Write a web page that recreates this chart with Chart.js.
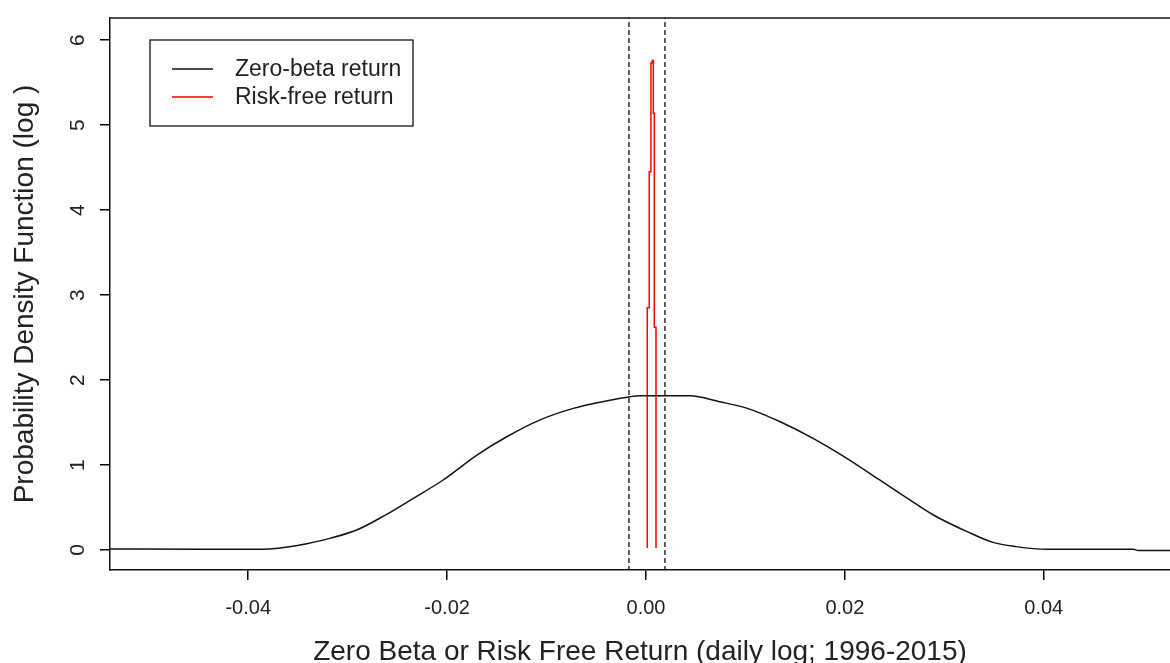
<!DOCTYPE html>
<html lang="en">

<head>
  <meta charset="UTF-8">
  <title>Zero Beta vs Risk Free Return</title>
  <script src="https://cdn.jsdelivr.net/npm/chart.js"></script>
  <style>
    body {
      margin: 0;
      background: #fff;
    }
  </style>
</head>

<body>
  <canvas id="graficoDensidad" width="1170" height="663"></canvas>

  <script>
    // Densidad del retorno zero-beta
    const zeroBetaX = [-0.0545, -0.0450, -0.0385, -0.0348, -0.0318, -0.0291, -0.0265, -0.0234, -0.0204,
      -0.0170, -0.0140, -0.0107, -0.0073, -0.0039, -0.0016, -0.0006, 0.0044, 0.0074, 0.0102, 0.0135,
      0.0168, 0.0202, 0.0235, 0.0263, 0.0289, 0.0323, 0.0349, 0.0372, 0.0403, 0.0490, 0.0495, 0.0545];
    const zeroBetaY = [0.012, 0.010, 0.010, 0.059, 0.137, 0.235, 0.392, 0.608, 0.824,
      1.118, 1.333, 1.529, 1.667, 1.756, 1.804, 1.815, 1.815, 1.745, 1.667, 1.509,
      1.314, 1.079, 0.824, 0.608, 0.412, 0.216, 0.090, 0.040, 0.008, 0.008, -0.005, -0.005];

    // Densidad del retorno libre de riesgo (escalonada)
    const riskFreeX = [0.00013, 0.00013, 0.00033, 0.00050, 0.00063, 0.00074, 0.00084, 0.00101];
    const riskFreeY = [0.024, 2.85, 4.45, 5.73, 5.76, 5.14, 2.62, 0.024];

    // Limites del intervalo (lineas punteadas)
    const limites = [-0.00171, 0.00191];

    const xTicks = [-0.04, -0.02, 0, 0.02, 0.04];
    const yTicks = [0, 1, 2, 3, 4, 5, 6];

    const fuente = "'Liberation Sans', Arial, sans-serif";
    const negro = '#000';

    const puntos = (xs, ys) => xs.map((x, i) => ({ x: x, y: ys[i] }));

    const datasets = [
      {
        label: 'Zero-beta return',
        data: puntos(zeroBetaX, zeroBetaY),
        borderColor: '#111',
        borderWidth: 1.5,
        pointRadius: 0,
        cubicInterpolationMode: 'monotone',
        enLeyenda: true
      },
      {
        label: 'Risk-free return',
        data: puntos(riskFreeX, riskFreeY),
        borderColor: '#ff0000',
        borderWidth: 1.5,
        pointRadius: 0,
        stepped: true,
        enLeyenda: true
      }
    ];

    limites.forEach(v => {
      datasets.push({
        label: 'limite',
        data: [{ x: v, y: -1 }, { x: v, y: 7 }],
        borderColor: '#111',
        borderWidth: 1.3,
        borderDash: [5, 3],
        pointRadius: 0
      });
    });

    // Borde superior del grafico y leyenda con recuadro
    const marcoYLeyenda = {
      id: 'marcoYLeyenda',
      afterDraw(chart) {
        const ctx = chart.ctx;
        const area = chart.chartArea;
        ctx.save();
        ctx.strokeStyle = '#111';
        ctx.lineWidth = 1.5;
        ctx.beginPath();
        ctx.moveTo(area.left, area.top);
        ctx.lineTo(area.right, area.top);
        ctx.stroke();

        const bx = area.left + 40, by = area.top + 22, bw = 263, bh = 86;
        ctx.lineWidth = 1.3;
        ctx.strokeRect(bx, by, bw, bh);

        ctx.font = '23px ' + fuente;
        ctx.textBaseline = 'middle';
        ctx.fillStyle = '#222';
        chart.data.datasets.filter(d => d.enLeyenda).forEach((d, i) => {
          const y = by + 29 + i * 28;
          ctx.strokeStyle = d.borderColor;
          ctx.lineWidth = 1.5;
          ctx.beginPath();
          ctx.moveTo(bx + 22, y);
          ctx.lineTo(bx + 63, y);
          ctx.stroke();
          ctx.fillText(d.label, bx + 85, y + 1);
        });
        ctx.restore();
      }
    };

    new Chart(document.getElementById('graficoDensidad'), {
      type: 'line',
      data: { datasets: datasets },
      plugins: [marcoYLeyenda],
      options: {
        responsive: false,
        animation: false,
        layout: { padding: { top: 18, right: 0, left: 0, bottom: 0 } },
        plugins: {
          legend: { display: false },
          tooltip: { enabled: false }
        },
        scales: {
          x: {
            type: 'linear',
            min: -0.0539,
            max: 0.0527,
            afterBuildTicks: s => { s.ticks = xTicks.map(v => ({ value: v })); },
            afterFit: s => { s.height = 93; s.paddingLeft = 0; s.paddingRight = 0; },
            grid: { drawOnChartArea: false, drawTicks: true, tickLength: 10, color: negro, lineWidth: 1.5 },
            border: { display: true, color: '#111', width: 1.5 },
            ticks: {
              color: '#222',
              padding: 16,
              maxRotation: 0,
              font: { family: fuente, size: 20 },
              callback: v => v.toFixed(2)
            },
            title: {
              display: true,
              text: 'Zero Beta or Risk Free Return (daily log; 1996-2015)',
              color: '#222',
              font: { family: fuente, size: 28, lineHeight: 0.8 },
              padding: { top: 0, bottom: 0 }
            }
          },
          y: {
            type: 'linear',
            min: -0.235,
            max: 6.26,
            afterBuildTicks: s => { s.ticks = yTicks.map(v => ({ value: v })); },
            afterFit: s => { s.width = 110; s.paddingTop = 0; s.paddingBottom = 0; },
            grid: { drawOnChartArea: false, drawTicks: true, tickLength: 10, color: negro, lineWidth: 1.5 },
            border: { display: true, color: '#111', width: 1.5 },
            ticks: {
              color: '#222',
              padding: 16,
              minRotation: 90,
              maxRotation: 90,
              crossAlign: 'center',
              font: { family: fuente, size: 21 }
            },
            title: {
              display: true,
              text: 'Probability Density Function (log )',
              color: '#222',
              font: { family: fuente, size: 28, lineHeight: 1 },
              padding: { top: 11, bottom: 0 }
            }
          }
        }
      }
    });
  </script>
</body>

</html>
